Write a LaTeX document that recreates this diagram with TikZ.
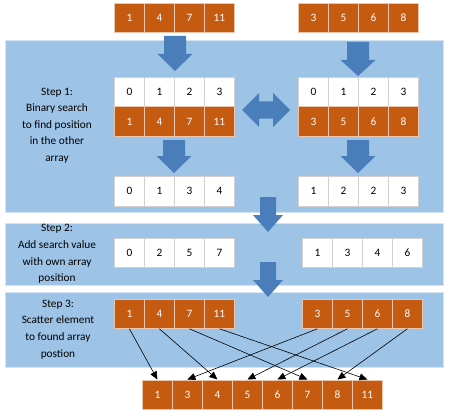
\documentclass[tikz,border=0pt]{standalone}
\usepackage{fontspec}
\setmainfont{Carlito}
\usetikzlibrary{arrows.meta}
\definecolor{orng}{RGB}{197,90,17}
\definecolor{pblue}{RGB}{157,195,230}
\definecolor{ablue}{RGB}{74,126,187}
\tikzset{
  cellw/.style={draw=white!82!black, fill=white, line width=0.8pt, minimum width=30pt, minimum height=29.5pt, inner sep=0pt, font=\fontsize{11.3}{13}\selectfont, text=black, anchor=north west},
  cello/.style={cellw, fill=orng, draw=white!65!orng, text=white},
  panel/.style={fill=pblue, draw=white!55!pblue, line width=1pt},
  blockarrow/.style={fill=ablue, draw=none},
  steptext/.style={align=center, font=\fontsize{11.3}{16.6}\selectfont, text=black},
  link/.style={-{Triangle[length=8pt,width=7pt]}, line width=0.6pt, black},
}
\newcommand\cellrow[5]{%
  \foreach \v [count=\i] in {#5} {\node[#2] (#1-\i) at ({#3+30*(\i-1)},#4) {\v};}%
}
\newcommand\downblock[6]{%
  \fill[blockarrow] ({#1-#5},#2) -- ({#1+#5},#2) -- ({#1+#5},#3) -- ({#1+#6},#3) -- (#1,#4) -- ({#1-#6},#3) -- ({#1-#5},#3) -- cycle;%
}
\begin{document}
\begin{tikzpicture}[x=1pt,y=-1pt]
\useasboundingbox (0,0) rectangle (449,417);
% panels
\draw[panel] (5,41) rectangle (443,212);
\draw[panel] (5,223) rectangle (443,285);
\draw[panel] (5,292) rectangle (443,367);
% input arrays
\cellrow{ta}{cello}{114}{3}{1,4,7,11}
\cellrow{tb}{cello}{298}{3}{3,5,6,8}
% step 1
\cellrow{ia}{cellw}{114}{77}{0,1,2,3}
\cellrow{va}{cello}{114}{106.5}{1,4,7,11}
\cellrow{ib}{cellw}{298}{77}{0,1,2,3}
\cellrow{vb}{cello}{298}{106.5}{3,5,6,8}
\cellrow{ra}{cellw}{114}{176}{0,1,3,4}
\cellrow{rb}{cellw}{298}{176}{1,2,2,3}
% step 2
\cellrow{sa}{cellw}{114}{237.5}{0,2,5,7}
\cellrow{sb}{cellw}{302}{237.5}{1,3,4,6}
% step 3
\cellrow{ua}{cello}{114}{298.5}{1,4,7,11}
\cellrow{ub}{cello}{302}{298.5}{3,5,6,8}
% result
\cellrow{out}{cello}{142}{379.5}{1,3,4,5,6,7,8,11}
% block arrows
\downblock{175}{36}{54}{71}{11}{17.5}
\downblock{358}{42}{60}{76}{11}{17.5}
\downblock{174}{140}{156}{173}{11}{17.5}
\downblock{358}{140}{156}{173}{11}{17.5}
\downblock{268}{197}{215}{232}{8}{15}
\downblock{268}{262}{280}{297}{8}{15}
\fill[blockarrow] (242,110) -- (259,93) -- (259,101.5) -- (273,101.5) -- (273,93) -- (290,110) -- (273,127) -- (273,118.5) -- (259,118.5) -- (259,127) -- cycle;
% step texts
\node[steptext] (st1) at (57,125.5) {Step 1:\\Binary search\\to find position\\in the other\\array};
\node[steptext] (st2) at (57,254) {Step 2:\\Add search value\\with own array\\position};
\node[steptext] (st3) at (58,329.5) {Step 3:\\Scatter element\\to found array\\postion};
% scatter links
\draw[link] (ua-1.south) -- (out-1.north);
\draw[link] (ua-2.south) -- (out-3.north);
\draw[link] (ua-3.south) -- (out-6.north);
\draw[link] (ua-4.south) -- (out-8.north);
\draw[link] (ub-1.south) -- (out-2.north);
\draw[link] (ub-2.south) -- (out-4.north);
\draw[link] (ub-3.south) -- (out-5.north);
\draw[link] (ub-4.south) -- (out-7.north);
\end{tikzpicture}
\end{document}
